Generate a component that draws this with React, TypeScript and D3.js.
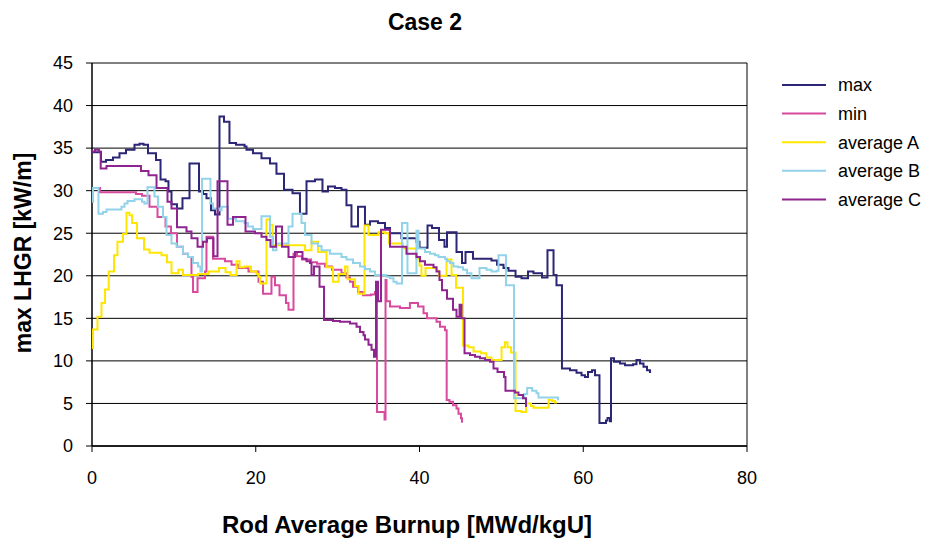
import React from "react";
import * as d3 from "d3";

const W = 926;
const H = 542;

const xTicks = [0, 20, 40, 60, 80];
const yTicks = [0, 5, 10, 15, 20, 25, 30, 35, 40, 45];

const seriesNames = ["max", "min", "average A", "average B", "average C"];
const seriesColors = ["#2B2675", "#D84A9E", "#FFE600", "#92D3EA", "#8E2490"];

type P = [number, number];

const maxData: P[] = [
  [0.0, 34.5], [1.1, 33.4], [1.71, 33.6], [2.56, 33.9], [3.36, 34.4], [4.15, 34.8], [5.19, 35.4],
  [5.8, 35.5], [6.29, 35.4], [6.84, 34.4], [7.82, 33.6], [8.37, 31.3], [8.98, 31.1], [9.34, 29.9],
  [9.71, 28.4], [10.38, 27.9], [11.05, 29.1], [11.91, 33.2], [13.07, 29.9], [13.56, 29.6],
  [13.98, 29.1], [14.53, 27.7], [15.02, 27.2], [15.57, 38.7], [16.12, 38.1], [16.79, 35.6],
  [17.59, 35.4], [18.63, 35.2], [18.87, 34.8], [19.66, 34.4], [20.7, 33.8], [21.74, 33.2],
  [22.53, 32.0], [23.45, 30.1], [24.49, 29.7], [25.4, 27.3], [26.2, 31.1], [27.24, 31.3],
  [28.15, 29.9], [28.82, 30.5], [29.68, 30.3], [30.47, 30.1], [31.08, 28.3], [31.69, 25.8],
  [32.49, 28.1], [33.34, 26.0], [33.95, 26.4], [34.93, 26.2], [35.79, 25.6], [36.4, 25.0],
  [37.8, 24.4], [39.63, 24.0], [40.0, 23.3], [40.98, 25.9], [41.53, 25.6], [42.38, 24.2],
  [43.05, 23.4], [43.36, 25.1], [44.52, 22.8], [45.19, 21.5], [45.62, 22.8], [46.53, 22.0],
  [48.79, 21.8], [49.47, 21.3], [50.26, 20.9], [50.87, 20.6], [51.73, 19.9], [52.46, 19.7],
  [53.25, 20.5], [53.92, 20.3], [54.96, 19.8], [55.63, 23.0], [56.37, 20.1], [56.73, 18.9],
  [57.4, 9.1], [58.38, 8.9], [59.18, 8.6], [59.79, 8.3], [60.21, 8.1], [60.58, 8.7], [61.07, 8.9],
  [61.44, 8.3], [61.98, 2.7], [62.78, 3.0], [62.96, 3.3], [63.27, 2.9], [63.39, 10.3],
  [63.76, 9.9], [64.49, 9.7], [65.1, 9.5], [66.08, 9.6], [66.5, 10.1], [66.93, 9.7], [67.36, 9.3],
  [67.79, 8.9], [68.15, 8.7], [68.28, 8.7],
];

const minData: P[] = [
  [0.0, 30.3], [0.98, 29.8], [5.37, 29.6], [6.11, 29.4], [7.02, 28.1], [8.0, 26.9], [8.98, 25.8],
  [9.65, 25.0], [10.38, 23.4], [11.11, 22.6], [11.73, 22.2], [12.15, 19.9], [12.34, 18.1],
  [12.89, 19.7], [13.8, 20.5], [13.98, 24.6], [14.78, 22.0], [16.24, 21.7], [17.04, 21.3],
  [17.89, 20.9], [19.11, 20.5], [20.34, 19.3], [20.89, 17.9], [21.92, 19.9], [22.35, 18.9],
  [22.9, 17.7], [23.69, 16.8], [24.0, 16.0], [24.61, 22.6], [25.04, 22.3], [25.65, 21.9],
  [26.75, 21.6], [27.48, 21.4], [28.46, 21.1], [29.31, 20.7], [30.47, 20.3], [31.08, 19.8],
  [31.51, 19.3], [31.88, 18.7], [32.49, 18.1], [33.1, 17.7], [34.08, 17.8], [34.56, 18.1],
  [34.81, 4.0], [35.73, 3.1], [35.85, 19.5], [35.97, 17.0], [36.4, 16.4], [37.62, 16.2],
  [38.83, 16.8], [39.82, 16.4], [40.49, 15.6], [40.92, 15.0], [42.08, 14.6], [42.5, 14.0],
  [43.11, 13.6], [43.32, 5.4], [43.66, 5.2], [44.09, 4.8], [44.52, 4.4], [44.76, 3.8],
  [45.07, 3.25], [45.19, 2.85], [45.31, 2.85],
];

const avgAData: P[] = [
  [0.0, 11.5], [0.12, 13.7], [0.67, 15.2], [1.16, 16.8], [1.59, 18.4], [2.04, 20.5], [2.69, 22.4],
  [3.11, 24.0], [3.79, 24.9], [4.21, 27.4], [4.58, 27.1], [4.89, 26.2], [5.5, 24.4], [6.35, 23.1],
  [7.02, 22.7], [8.49, 22.4], [9.16, 21.6], [9.71, 20.3], [10.56, 20.7], [11.11, 20.1],
  [12.95, 20.2], [14.23, 20.5], [15.51, 20.9], [16.31, 20.4], [16.92, 20.1], [17.65, 21.7],
  [18.02, 21.0], [18.63, 21.1], [19.42, 20.5], [20.09, 20.2], [20.34, 19.9], [20.52, 19.1],
  [21.31, 26.6], [21.74, 26.0], [22.05, 23.6], [26.02, 23.0], [26.81, 24.0], [27.6, 22.8],
  [28.64, 21.0], [29.44, 19.3], [30.11, 20.2], [30.9, 21.1], [31.21, 19.6], [32.12, 18.8],
  [32.55, 17.9], [33.28, 25.9], [33.77, 24.8], [34.99, 25.1], [35.79, 25.0], [36.27, 23.8],
  [37.99, 23.2], [39.57, 22.0], [40.0, 21.2], [40.24, 20.0], [40.73, 20.9], [42.08, 20.6],
  [42.38, 20.0], [43.3, 21.9], [43.91, 20.1], [44.46, 18.6], [45.31, 11.8], [45.98, 11.6],
  [46.6, 11.1], [47.51, 10.9], [48.18, 10.4], [48.79, 10.1], [50.02, 11.6], [50.44, 12.2],
  [50.75, 11.6], [51.18, 11.0], [51.73, 4.1], [52.46, 4.0], [53.01, 5.0], [53.62, 4.7],
  [53.92, 4.5], [55.57, 4.5], [55.76, 5.4], [56.18, 5.3], [56.55, 5.1], [56.79, 5.1],
];

const avgBData: P[] = [
  [0.0, 28.7], [0.12, 30.3], [0.79, 27.3], [1.34, 27.5], [1.77, 27.8], [3.6, 28.1], [3.97, 28.5],
  [4.34, 28.8], [5.19, 29.0], [6.11, 28.7], [6.41, 28.5], [6.78, 30.4], [7.63, 29.3], [8.06, 28.1],
  [8.67, 26.9], [9.1, 24.8], [9.71, 23.8], [10.32, 23.4], [11.11, 22.6], [11.73, 22.2],
  [12.34, 21.5], [12.95, 21.1], [13.25, 20.5], [13.44, 31.4], [14.47, 28.5], [14.78, 27.9],
  [15.63, 27.7], [15.82, 28.1], [16.61, 26.7], [17.59, 26.4], [18.63, 26.2], [19.05, 25.8],
  [19.66, 25.5], [20.7, 27.0], [21.74, 24.6], [22.11, 23.0], [22.53, 23.8], [24.0, 25.8],
  [24.49, 27.3], [25.59, 26.2], [26.02, 24.8], [26.81, 23.8], [27.6, 23.5], [28.03, 23.0],
  [29.07, 22.6], [30.47, 22.2], [31.08, 21.9], [31.88, 21.5], [32.73, 21.1], [33.34, 20.8],
  [33.95, 20.5], [34.56, 20.1], [35.97, 19.9], [36.4, 19.7], [36.82, 19.3], [37.19, 19.1],
  [37.86, 26.2], [38.53, 20.3], [39.63, 25.3], [39.88, 23.2], [40.67, 22.8], [41.28, 22.6],
  [41.89, 22.4], [42.32, 22.2], [43.11, 22.0], [43.36, 21.7], [43.73, 21.5], [44.15, 21.1],
  [44.7, 21.0], [45.31, 20.7], [45.8, 20.3], [46.35, 19.7], [47.33, 20.9], [48.18, 20.7],
  [48.79, 20.5], [49.41, 20.6], [49.65, 22.4], [50.56, 18.9], [51.54, 5.6], [52.79, 6.1],
  [53.15, 6.8], [53.76, 6.5], [54.29, 6.2], [54.53, 5.7], [56.92, 5.5], [57.04, 5.5],
];

const avgCData: P[] = [
  [0.0, 34.6], [0.37, 34.8], [0.85, 34.6], [1.06, 32.6], [1.77, 32.9], [5.98, 32.3], [6.9, 31.8],
  [7.88, 30.3], [9.22, 28.7], [9.71, 27.9], [10.38, 25.7], [11.54, 25.2], [12.15, 24.4],
  [12.89, 23.4], [13.56, 24.0], [14.05, 24.4], [14.84, 22.3], [15.33, 31.1], [16.55, 26.0],
  [17.22, 26.9], [18.75, 25.2], [19.91, 25.0], [20.7, 24.6], [21.31, 24.2], [21.8, 23.4],
  [22.47, 25.8], [23.21, 23.4], [24.0, 22.2], [24.79, 22.8], [25.71, 22.0], [26.2, 21.7],
  [26.63, 21.5], [26.81, 20.1], [27.11, 21.1], [27.79, 18.7], [28.34, 14.8], [29.44, 14.7],
  [30.29, 14.6], [31.51, 14.4], [32.31, 14.0], [32.73, 13.4], [33.16, 13.0], [33.34, 12.5],
  [33.77, 11.9], [34.14, 11.3], [34.44, 10.5], [34.69, 19.3], [34.93, 17.0], [35.3, 25.4],
  [36.4, 23.4], [38.41, 22.6], [39.63, 22.2], [40.06, 21.7], [40.67, 21.3], [41.71, 21.0],
  [42.08, 20.5], [42.44, 19.5], [42.75, 18.3], [43.36, 17.3], [44.09, 16.0], [44.52, 15.2],
  [44.89, 16.6], [45.13, 15.0], [45.5, 10.9], [46.17, 10.7], [46.78, 10.5], [47.39, 10.3],
  [48.0, 10.1], [48.61, 9.9], [49.04, 9.1], [49.53, 8.7], [50.32, 8.1], [50.5, 6.5],
  [51.66, 6.3], [52.09, 6.0], [52.64, 5.6], [53.01, 4.7], [53.13, 4.7],
];

const allSeries = [maxData, minData, avgAData, avgBData, avgCData];

export default function App() {
  const x = d3.scaleLinear().domain([0, 80]).range([92, 747]);
  const y = d3.scaleLinear().domain([0, 45]).range([446, 63]);
  const line = d3
    .line<P>()
    .x((d) => x(d[0]))
    .y((d) => y(d[1]))
    .curve(d3.curveStepAfter);
  const font = "'Liberation Sans', Arial, sans-serif";

  return (
    <svg
      width={W}
      height={H}
      style={{ position: "absolute", left: 0, top: 0, background: "#fff" }}
      fontFamily={font}
    >
      <rect x={0} y={0} width={W} height={H} fill="#fff" />
      {yTicks.map((t) => (
        <line key={"g" + t} x1={x(0)} x2={x(80)} y1={y(t)} y2={y(t)} stroke="#000" strokeWidth={1} />
      ))}
      <line x1={x(80)} x2={x(80)} y1={y(45)} y2={y(0)} stroke="#000" strokeWidth={1} />
      <line x1={x(0)} x2={x(0)} y1={y(45)} y2={y(0)} stroke="#000" strokeWidth={1.5} />
      <line x1={x(0)} x2={x(80)} y1={y(0)} y2={y(0)} stroke="#000" strokeWidth={1.5} />
      {yTicks.map((t) => (
        <g key={"yt" + t}>
          <line x1={x(0) - 6} x2={x(0)} y1={y(t)} y2={y(t)} stroke="#000" strokeWidth={1} />
          <text x={73} y={y(t)} dy="0.35em" textAnchor="end" fontSize={18} fill="#000">
            {t}
          </text>
        </g>
      ))}
      {xTicks.map((t) => (
        <g key={"xt" + t}>
          <line x1={x(t)} x2={x(t)} y1={y(0)} y2={y(0) + 6} stroke="#000" strokeWidth={1} />
          <text x={x(t)} y={484} textAnchor="middle" fontSize={18} fill="#000">
            {t}
          </text>
        </g>
      ))}
      {allSeries.map((s, i) => (
        <path
          key={"s" + i}
          d={line(s) || ""}
          fill="none"
          stroke={seriesColors[i]}
          strokeWidth={2}
          strokeLinejoin="miter"
        />
      ))}
      {seriesNames.map((n, i) => (
        <g key={"l" + i} transform={`translate(0, ${85 + i * 28.6})`}>
          <line x1={782} x2={826} y1={0} y2={0} stroke={seriesColors[i]} strokeWidth={2} />
          <text x={838} y={0} dy="0.35em" fontSize={18} fill="#000">
            {n}
          </text>
        </g>
      ))}
      <text x={425} y={30} textAnchor="middle" fontSize={23} fontWeight="bold" fill="#000">
        Case 2
      </text>
      <text x={407} y={533} textAnchor="middle" fontSize={24} fontWeight="bold" fill="#000">
        Rod Average Burnup [MWd/kgU]
      </text>
      <text
        transform={`translate(31, 253) rotate(-90)`}
        textAnchor="middle"
        fontSize={23}
        fontWeight="bold"
        fill="#000"
      >
        max LHGR [kW/m]
      </text>
    </svg>
  );
}
